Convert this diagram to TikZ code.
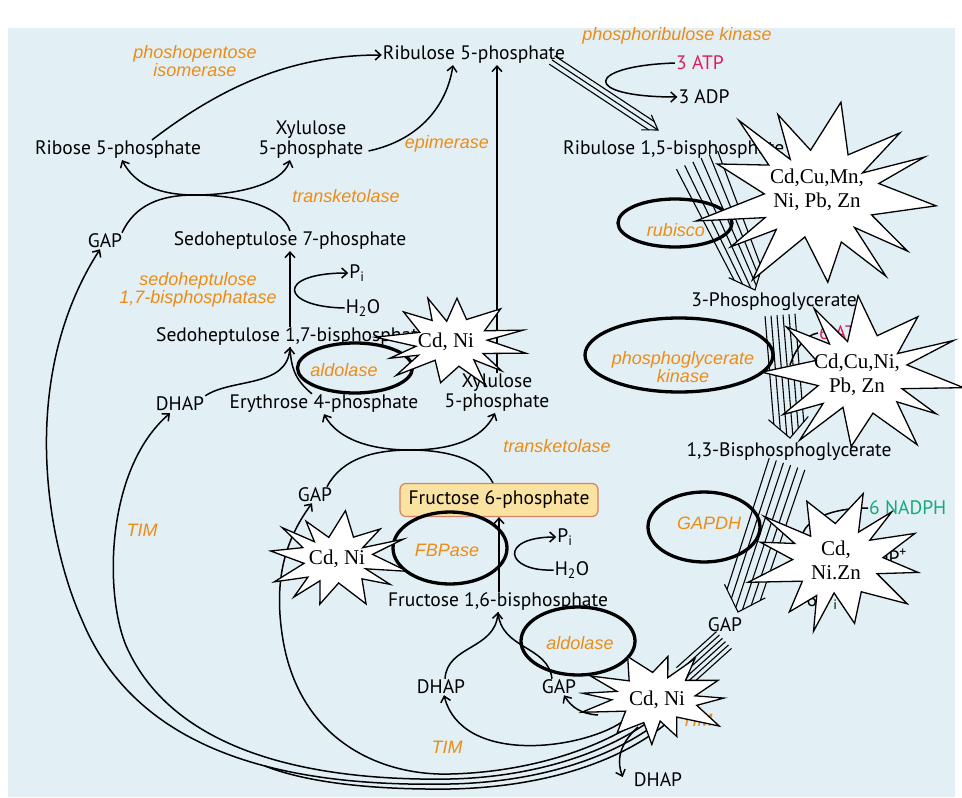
\documentclass[tikz,border=0pt]{standalone}
\usepackage{fontspec}
\setmainfont{PT Sans}
\newfontfamily\enzfont{Liberation Sans}
\newfontfamily\tmsfont{Liberation Serif}
\usetikzlibrary{arrows.meta,shapes.geometric,calc}
\definecolor{bg}{RGB}{226,240,246}
\definecolor{enzc}{RGB}{236,140,20}
\definecolor{atpc}{RGB}{225,30,90}
\definecolor{nadc}{RGB}{20,170,120}
\definecolor{f6pfill}{RGB}{250,226,160}
\definecolor{f6pdraw}{RGB}{215,130,100}
\tikzset{
 lab/.style={font=\fontsize{19.5}{20}\selectfont, inner sep=1pt, align=center},
 enz/.style={font=\enzfont\itshape\fontsize{18}{18}\selectfont, text=enzc, inner sep=1pt, align=center},
 arr/.style={line width=1.5pt, -{Straight Barb[length=5.5pt,width=10pt]}},
 ln/.style={line width=1.5pt},
 oval/.style={ellipse, draw, line width=3.3pt, inner sep=0pt},
 burstline/.style={draw, fill=white, line width=1.3pt, line join=miter, miter limit=30},
 btext/.style={font=\tmsfont\fontsize{21}{24}\selectfont, align=center, inner sep=0pt},
 stripe/.style={line width=1.1pt},
 declare function={
   brad(\bt,\bi,\bs)=(mod(round(\bt),2)==0) ? (0.93+0.07*sin(\bt*97+\bs)) : (\bi*(0.92+0.08*cos(\bt*71+\bs)));
   bang(\bt,\bn,\bp,\bs)=\bt*180/\bn+\bp+6*sin(\bt*53+\bs);
 },
}
\newcommand\stripes[9]{%
 \pgfmathsetmacro\sdx{#3-(#1)}%
 \pgfmathsetmacro\sdy{#4-(#2)}%
 \pgfmathsetmacro\slen{10*sqrt((\sdx/10)^2+(\sdy/10)^2)}%
 \pgfmathsetmacro\sux{(\sdx)/\slen}%
 \pgfmathsetmacro\suy{(\sdy)/\slen}%
 \pgfmathsetmacro\shw{(#5-1)/2*#7+#9}%
 \foreach \k in {1,...,#5}{%
   \pgfmathsetmacro\sfa{\k-1-(#5-1)/2}%
   \pgfmathsetmacro\sxa{#1-(\suy)*(\sfa)*#6}%
   \pgfmathsetmacro\sya{#2+(\sux)*(\sfa)*#6}%
   \pgfmathsetmacro\sbk{#8*abs((\sfa)*#7)/\shw}%
   \pgfmathsetmacro\sxb{#3-(\sux)*(\sbk)-(\suy)*(\sfa)*#7}%
   \pgfmathsetmacro\syb{#4-(\suy)*(\sbk)+(\sux)*(\sfa)*#7}%
   \draw[stripe] (\sxa,\sya) -- (\sxb,\syb);
 }%
 \ifdim #8pt>0pt
   \pgfmathsetmacro\sxc{#3-(\sux)*#8-(\suy)*\shw}%
   \pgfmathsetmacro\syc{#4-(\suy)*#8+(\sux)*\shw}%
   \pgfmathsetmacro\sxd{#3-(\sux)*#8+(\suy)*\shw}%
   \pgfmathsetmacro\syd{#4-(\suy)*#8-(\sux)*\shw}%
   \draw[stripe] (\sxc,\syc) -- (#3,#4) -- (\sxd,\syd);
 \fi
}
% #1 cx, #2 cy, #3 rx, #4 ry, #5 number of spikes, #6 inner ratio, #7 seed, #8 phase
\newcommand\burst[8]{%
 \pgfmathtruncatemacro\bmax{2*#5-1}%
 \pgfmathtruncatemacro\bsam{2*#5}%
 \path[burstline] plot[domain=0:\bmax, samples=\bsam, variable=\u]
   ({#1+#3*brad(\u,#6,#7)*cos(bang(\u,#5,#8,#7))},{#2+#4*brad(\u,#6,#7)*sin(bang(\u,#5,#8,#7))}) -- cycle;
}
\begin{document}
\begin{tikzpicture}[x=1pt,y=-1pt]
\useasboundingbox (0,0) rectangle (962,798);
\fill[white] (0,0) rectangle (962,798);
\fill[bg] (8,28) rectangle (955,797);

% ---------- metabolites ----------
\node[lab] (r5p) at (474,55) {Ribulose 5-phosphate};
\node[lab] (rib5p) at (118,150) {Ribose 5-phosphate};
\node[lab] (xyl1) at (311,140) {Xylulose\\5-phosphate};
\node[lab,anchor=west] (rubp) at (562,150) {Ribulose 1,5-bisphosphate};
\node[lab] (gap1) at (105,241) {GAP};
\node[lab] (s7p) at (290,241) {Sedoheptulose 7-phosphate};
\node[lab] (pi1) at (357,273) {P\textsubscript{i}};
\node[lab] (h2o1) at (363,308) {H\textsubscript{2}O};
\node[lab,anchor=west] (sbp) at (155,337) {Sedoheptulose 1,7-bisphosphate};
\node[lab] (dhap1) at (180,404) {DHAP};
\node[lab] (e4p) at (324,404) {Erythrose 4-phosphate};
\node[lab] (xyl2) at (497,393) {Xylulose\\5-phosphate};
\node[lab] (gap2) at (315,495) {GAP};
\node[lab, draw=f6pdraw, fill=f6pfill, rounded corners=6pt, line width=1.2pt,
      minimum width=198pt, minimum height=33pt] (f6p) at (499,500) {Fructose 6-phosphate};
\node[lab] (pi2) at (565,537) {P\textsubscript{i}};
\node[lab] (h2o2) at (572,570) {H\textsubscript{2}O};
\node[lab] (f16bp) at (498,602) {Fructose 1,6-bisphosphate};
\node[lab] (dhap2) at (441,687) {DHAP};
\node[lab] (gap3) at (559,687) {GAP};
\node[lab] (dhap3) at (658,780) {DHAP};
\node[lab] (gap4) at (725,625) {GAP};
\node[lab] (pg3) at (774,302) {3-Phosphoglycerate};
\node[lab] (bpg) at (789,452) {1,3-Bisphosphoglycerate};
\node[lab, text=atpc] (atp3) at (700,63) {3 ATP};
\node[lab] (adp3) at (704,97) {3 ADP};
\node[lab, anchor=east] (nadp) at (908,557) {6 NADP\textsuperscript{+}};
\node[lab] (pi6) at (822,601) {6 P\textsubscript{i}};
\node[lab, text=atpc, anchor=east] (atp6) at (868,333) {6 ATP};
\coordinate (nadphw) at (868,508);

% ---------- enzymes ----------
\node[enz] (ppi) at (195,61) {phoshopentose\\isomerase};
\node[enz] (epi) at (447,144) {epimerase};
\node[enz] (tk1) at (346,196) {transketolase};
\node[enz] (prk) at (677,36) {phosphoribulose kinase};
\node[enz] (sbpase) at (198,290) {sedoheptulose\\1,7-bisphosphatase};
\node[enz] (ald1) at (344,370) {aldolase};
\node[enz] (rub) at (676,230) {rubisco};
\node[enz] (pgk) at (683,367) {phosphoglycerate\\kinase};
\node[enz] (tk2) at (557,446) {transketolase};
\node[enz] (tim1) at (142,530) {TIM};
\node[enz] (fbp) at (447,550) {FBPase};
\node[enz] (gapdh) at (709,523) {GAPDH};
\node[enz] (ald2) at (580,643) {aldolase};
\node[enz] (tim2) at (447,747) {TIM};
\node[enz] (tim3) at (697,720) {TIM};

% ---------- thin connectors ----------
\draw[arr] ($(rib5p.north)+(34,0)$) .. controls (230,80) and (300,55) .. (r5p.west);
\draw[arr] ($(xyl1.south east)+(4,-9)$) .. controls (420,140) and (447,105) .. ($(r5p.south)+(-21,0)$);
\coordinate (x1) at (195,195);
\draw[arr] (s7p.north) .. controls (282,205) and (235,195) .. (x1) .. controls (160,195) and (135,185) .. ($(rib5p.south)+(4,0)$);
\draw[arr] ($(gap1.north)+(17,0)$) .. controls (135,205) and (160,195) .. (x1) .. controls (235,195) and (282,185) .. ($(xyl1.south)+(-21,0)$);
\draw[arr] (xyl2.north) -- (xyl2.north |- r5p.south);
\draw[arr] (s7p.south |- sbp.north) -- (s7p.south);
\draw[arr] (h2o1.west) .. controls (280,307) and (275,273) .. (pi1.west);
\draw[arr] (dhap1.north east) .. controls (232,378) and (287,388) .. (s7p.south |- sbp.south);
\draw[ln] ($(e4p.north)+(-12,0)$) .. controls (298,382) and (291,372) .. (s7p.south |- sbp.south);
\coordinate (x2) at (410,450);
\draw[arr] ($(gap2.north)+(12,0)$) .. controls (342,458) and (375,450) .. (x2) .. controls (450,450) and (482,440) .. ($(xyl2.south)+(-2,0)$);
\draw[arr] ($(f6p.north)+(-6,0)$) .. controls (480,458) and (445,450) .. (x2) .. controls (372,450) and (338,440) .. (e4p.south);
\draw[arr] (f6p.south |- f16bp.north) -- (f6p.south);
\draw[arr] (h2o2.west) .. controls (505,572) and (498,537) .. (pi2.west);
\draw[arr] ($(dhap2.north)+(4,0)$) .. controls (447,645) and (495,650) .. (f16bp.south);
\draw[ln] ($(gap3.north)+(-7,0)$) .. controls (548,645) and (501,650) .. (f16bp.south);
\coordinate (tb) at (622,722);
\draw[arr] (tb) .. controls (580,750) and (462,765) .. ($(dhap2.south)+(3,0)$);
\coordinate (bg3) at (598,715);
\draw[arr] (bg3) .. controls (582,714) and (572,708) .. ($(gap3.south)+(5,0)$);
\coordinate (bd3) at (638,727);
\draw[arr] (bd3) .. controls (618,745) and (617,762) .. ($(dhap3.west)+(-10,-3)$);
\draw[arr] (atp3.west) .. controls (585,66) and (580,97) .. (adp3.west);
\draw[arr] (nadphw) .. controls (790,508) and (785,557) .. (nadp.west);
\draw[ln] (atp6.west) .. controls (805,335) and (795,350) .. (790,365);

% ---------- long return arcs ----------
\draw[arr] (688,676) .. controls (640,740) and (540,772) .. (450,774) .. controls (380,776) and (300,740) .. (283,640) .. controls (273,580) and (285,540) .. ($(gap2.south)+(-3,0)$);
\draw[arr] (692,680) .. controls (644,745) and (545,777) .. (450,779) .. controls (330,781) and (180,760) .. (128,650) .. controls (104,600) and (104,470) .. ($(dhap1.south)+(-10,1)$);
\draw[arr] (696,684) .. controls (648,750) and (550,782) .. (450,784) .. controls (300,787) and (140,760) .. (82,620) .. controls (48,545) and (16,380) .. ($(gap1.south)+(-5,0)$);
\draw[ln] (700,688) .. controls (652,755) and (555,787) .. (450,789) .. controls (360,790) and (300,780) .. (265,766);

% ---------- striped arrows ----------
\stripes{552}{60}{658}{130}{3}{5}{5}{14}{4}
\stripes{697}{160}{755}{290}{6}{9}{6}{22}{4}
\stripes{780}{315}{790}{438}{6}{6}{6}{20}{5}
\stripes{787}{464}{738}{612}{6}{7.5}{7}{22}{4}
\stripes{724}{640}{684}{676}{6}{4.5}{4.5}{0}{0}

% ---------- enzyme ovals ----------
\node[oval, minimum width=114pt, minimum height=48pt] (orub) at (675,223) {};
\node[oval, minimum width=115pt, minimum height=50pt] (oald1) at (355,368) {};
\node[oval, minimum width=188pt, minimum height=74pt] (opgk) at (679,355) {};
\node[oval, minimum width=112pt, minimum height=70pt] (ogapdh) at (704,527) {};
\node[oval, minimum width=114pt, minimum height=72pt] (ofbp) at (450,548) {};
\node[oval, minimum width=114pt, minimum height=68pt] (oald2) at (578,641) {};

% ---------- metal starbursts ----------
\burst{818}{196}{126}{99}{13}{0.5}{10}{5}
\node[btext] (sb1) at (817,190) {Cd,Cu,Mn,\\Ni, Pb, Zn};
\burst{452}{342}{78}{48}{12}{0.52}{40}{10}
\node[btext] (sb2) at (446,342) {Cd, Ni};
\burst{861}{375}{104}{83}{12}{0.5}{75}{3}
\node[btext] (sb3) at (857,375) {Cd,Cu,Ni,\\Pb, Zn};
\burst{336}{560}{74}{50}{12}{0.52}{120}{8}
\node[btext] (sb4) at (337,559) {Cd, Ni};
\burst{836}{561}{92}{73}{12}{0.52}{200}{12}
\node[btext] (sb5) at (836,560) {Cd,\\Ni.Zn};
\burst{655}{698}{80}{47}{12}{0.55}{260}{6}
\node[btext] (sb6) at (657,700) {Cd, Ni};

% green label stays fully visible, as in the reference
\node[lab, text=nadc, anchor=west] (nadph) at (nadphw) {6 NADPH};
\end{tikzpicture}
\end{document}
